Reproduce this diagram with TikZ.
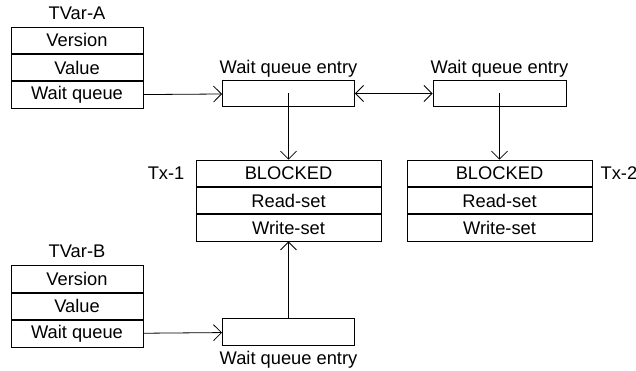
\documentclass[tikz,border=0pt]{standalone}
\usepackage{fontspec}
\setmainfont{Liberation Sans}
\usetikzlibrary{positioning,arrows.meta}

\tikzset{
  field/.style={draw, line width=0.9pt, minimum width=132pt, minimum height=26.5pt, inner sep=0pt},
  txfield/.style={field, minimum width=185pt, minimum height=26.33pt},
  entry/.style={draw, line width=0.9pt, minimum width=132pt, minimum height=26.5pt, inner sep=0pt},
  caption/.style={inner sep=0pt},
  link/.style={line width=0.8pt, >={Straight Barb[length=8pt,width=16pt]}},
}

\begin{document}
\begin{tikzpicture}[x=1pt, y=1pt, font=\fontsize{18.3}{22}\selectfont]
    \useasboundingbox (0, 0) rectangle (636, 370);
    % TVar-A
    \node[field] (aver) at (77, 329.75) {Version};
    \node[field, below=0pt of aver] (aval) {Value};
    \node[field, below=0pt of aval] (aqueue) {Wait queue};
    \node[caption, above=7pt of aver] (tvara) {TVar-A};
    % TVar-B
    \node[field] (bver) at (77, 91) {Version};
    \node[field, below=0pt of bver] (bval) {Value};
    \node[field, below=0pt of bval] (bqueue) {Wait queue};
    \node[caption, above=7pt of bver] (tvarb) {TVar-B};
    % wait queue entries
    \node[entry] (wqa1) at (288.5, 276.5) {};
    \node[entry, minimum width=133pt] (wqa2) at (499.5, 276.5) {};
    \node[entry] (wqb) at (288.5, 38) {};
    \node[caption, above=2pt of wqa1] {Wait queue entry};
    \node[caption, above=2pt of wqa2] {Wait queue entry};
    \node[caption, below=5pt of wqb] {Wait queue entry};
    % transactions
    \node[txfield] (tx1state) at (288.5, 196.65) {BLOCKED};
    \node[txfield, below=0pt of tx1state] (tx1read) {Read-set};
    \node[txfield, below=0pt of tx1read] (tx1write) {Write-set};
    \node[caption, left=11pt of tx1state] (tx1) {Tx-1};
    \node[txfield] (tx2state) at (499.5, 196.65) {BLOCKED};
    \node[txfield, below=0pt of tx2state] (tx2read) {Read-set};
    \node[txfield, below=0pt of tx2read] (tx2write) {Write-set};
    \node[caption, right=8pt of tx2state] (tx2) {Tx-2};
    % links
    \draw[link, ->] (aqueue) -- (wqa1);
    \draw[link, <->] (wqa1) -- (wqa2);
    \draw[link, ->] (bqueue) -- (wqb);
    \draw[link, ->] (wqa1.center) -- (tx1state.north);
    \draw[link, ->] (wqa2.center) -- (tx2state.north);
    \draw[link, ->] (wqb.north) -- (tx1write.south);
\end{tikzpicture}
\end{document}
